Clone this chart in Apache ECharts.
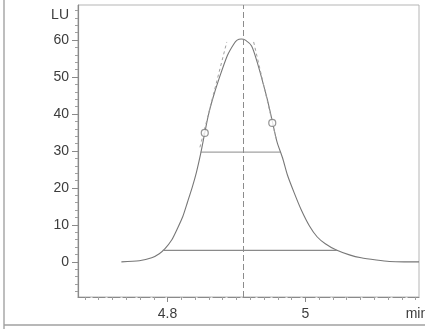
<!DOCTYPE html>
<html>
<head>
<meta charset="utf-8">
<script src="https://cdn.jsdelivr.net/npm/echarts@6/dist/echarts.min.js"></script>
<style>
  html, body { margin: 0; padding: 0; background: #fff; }
  #chart { width: 425px; height: 329px; }
</style>
</head>
<body>
<div id="chart"></div>
<script>
// Fluorescence detector trace of a single peak (retention time in min, signal in LU)
const times = [4.733, 4.759, 4.777, 4.788, 4.796, 4.806, 4.814, 4.822, 4.829, 4.836,
               4.842, 4.848, 4.854, 4.859, 4.865, 4.875, 4.887, 4.896, 4.901, 4.907,
               4.913, 4.922, 4.930, 4.939, 4.945, 4.952, 4.959, 4.967, 4.974, 4.984,
               4.994, 5.006, 5.017, 5.029, 5.045, 5.064, 5.081, 5.103, 5.122, 5.143, 5.165];
const signal = [0.0, 0.3, 1.1, 2.2, 3.5, 5.9, 8.9, 12.2, 16.2, 20.3,
                24.3, 29.2, 34.9, 39.5, 43.8, 49.7, 55.9, 58.9, 60.0, 60.3,
                60.0, 58.4, 54.1, 48.1, 43.8, 38.1, 32.4, 28.1, 23.5, 18.6,
                14.1, 9.7, 6.8, 4.9, 3.2, 1.9, 1.1, 0.5, 0.1, 0.0, 0.0];

// Peak evaluation marks
const apexTime = 4.907;
const halfHeight = 29.7;
const halfWidthEnds = [4.848, 4.964];
const baseHeight = 3.1;
const baseWidthEnds = [4.793, 5.046];
const inflectionTimes = [4.854, 4.952];
const inflectionValues = [34.9, 37.6];
const leftTangentT = [4.847, 4.886];
const leftTangentV = [31.0, 59.5];
const rightTangentT = [4.925, 4.958];
const rightTangentV = [59.5, 33.0];

// Axis ticks and labels
const yMajorTicks = [0, 10, 20, 30, 40, 50, 60];
const yUnitPos = 66.8;
const yUnit = 'LU';
const yMinorTicks = [-8, -6, -4, -2, 2, 4, 6, 8, 12, 14, 16, 18, 22, 24, 26, 28, 32, 34, 36, 38,
                     42, 44, 46, 48, 52, 54, 56, 58, 62, 64, 66, 68];
const xMajorTicks = [4.8, 5.0];
const xUnitPos = 5.162;
const xUnit = 'min';
const xMinorTicks = [4.68, 4.70, 4.72, 4.74, 4.76, 4.78, 4.82, 4.84, 4.86, 4.88, 4.90, 4.92, 4.94,
                     4.96, 4.98, 5.02, 5.04, 5.06, 5.08, 5.10, 5.12, 5.14, 5.16];

const X_MIN = 4.67, X_MAX = 5.165;
const Y_MIN = -9.5, Y_MAX = 69.5;

const pair = (xs, ys) => xs.map((x, i) => [x, ys[i]]);

const ink = '#777777';
const textCol = '#3c3c3c';
const fontFamily = '"Liberation Sans", Arial, sans-serif';

const chart = echarts.init(document.getElementById('chart'), null, { renderer: 'canvas' });

chart.setOption({
  animation: false,
  backgroundColor: '#fff',
  grid: {
    left: 78, right: 6, top: 5, bottom: 32,
    outerBoundsMode: 'none', containLabel: false,
    show: true, borderColor: '#b5b5b5', borderWidth: 1, backgroundColor: 'transparent'
  },
  xAxis: [
    {
      type: 'value', min: X_MIN, max: X_MAX,
      splitLine: { show: false },
      axisLine: { show: true, onZero: false, lineStyle: { color: '#8a8a8a', width: 1.2, type: [12, 3] } },
      axisTick: { show: true, length: 5, lineStyle: { color: '#8a8a8a' },
                  customValues: xMajorTicks },
      axisLabel: {
        customValues: xMajorTicks.concat([xUnitPos]),
        formatter: v => (Math.abs(v - xUnitPos) < 1e-6 ? xUnit : String(+v.toFixed(1))),
        color: textCol, fontSize: 14, fontFamily, margin: 10,
        showMinLabel: true, showMaxLabel: true
      }
    },
    {
      type: 'value', min: X_MIN, max: X_MAX, position: 'bottom',
      splitLine: { show: false },
      axisLine: { show: false, onZero: false },
      axisLabel: { show: false },
      axisTick: { show: true, length: 3, lineStyle: { color: '#a0a0a0' },
                  customValues: xMinorTicks }
    }
  ],
  yAxis: [
    {
      type: 'value', min: Y_MIN, max: Y_MAX,
      splitLine: { show: false },
      axisLine: { show: true, onZero: false, lineStyle: { color: '#8a8a8a', width: 1.2 } },
      axisTick: { show: true, length: 6, lineStyle: { color: '#8a8a8a' },
                  customValues: yMajorTicks },
      axisLabel: {
        customValues: yMajorTicks.concat([yUnitPos]),
        formatter: v => (Math.abs(v - yUnitPos) < 1e-6 ? yUnit : String(v)),
        color: textCol, fontSize: 14, fontFamily, margin: 9,
        showMinLabel: true, showMaxLabel: true
      }
    },
    {
      type: 'value', min: Y_MIN, max: Y_MAX, position: 'left',
      splitLine: { show: false },
      axisLine: { show: false, onZero: false },
      axisLabel: { show: false },
      axisTick: { show: true, length: 3, lineStyle: { color: '#a0a0a0' },
                  customValues: yMinorTicks }
    }
  ],
  graphic: [
    // outer frame: left edge and bottom rule
    { type: 'line', shape: { x1: 4, y1: 0, x2: 4, y2: 329 },
      style: { stroke: '#a8a8a8', lineWidth: 1.5 }, silent: true },
    { type: 'line', shape: { x1: 4, y1: 325, x2: 425, y2: 325 },
      style: { stroke: '#a0a0a0', lineWidth: 1.5 }, silent: true }
  ],
  series: [
    {
      name: 'signal', type: 'line', data: pair(times, signal),
      showSymbol: false, smooth: 0.25, silent: true,
      lineStyle: { color: ink, width: 1.1 },
      markLine: {
        silent: true, symbol: 'none', label: { show: false },
        lineStyle: { color: '#8c8c8c', width: 1, type: [6, 3] },
        data: [{ xAxis: apexTime }]
      }
    },
    {
      name: 'half height', type: 'line', data: pair(halfWidthEnds, [halfHeight, halfHeight]),
      showSymbol: false, silent: true, lineStyle: { color: '#8a8a8a', width: 1 }
    },
    {
      name: 'base width', type: 'line', data: pair(baseWidthEnds, [baseHeight, baseHeight]),
      showSymbol: false, silent: true, lineStyle: { color: '#8a8a8a', width: 1.2 }
    },
    {
      name: 'left tangent', type: 'line', data: pair(leftTangentT, leftTangentV),
      showSymbol: false, silent: true, lineStyle: { color: '#a0a0a0', width: 1, type: [3, 3] }
    },
    {
      name: 'right tangent', type: 'line', data: pair(rightTangentT, rightTangentV),
      showSymbol: false, silent: true, lineStyle: { color: '#a0a0a0', width: 1, type: [3, 3] }
    },
    {
      name: 'inflection', type: 'scatter', data: pair(inflectionTimes, inflectionValues),
      symbol: 'circle', symbolSize: 7, silent: true, z: 5,
      itemStyle: { color: '#ffffff', borderColor: '#7a7a7a', borderWidth: 1.2 }
    }
  ]
});
</script>
</body>
</html>
